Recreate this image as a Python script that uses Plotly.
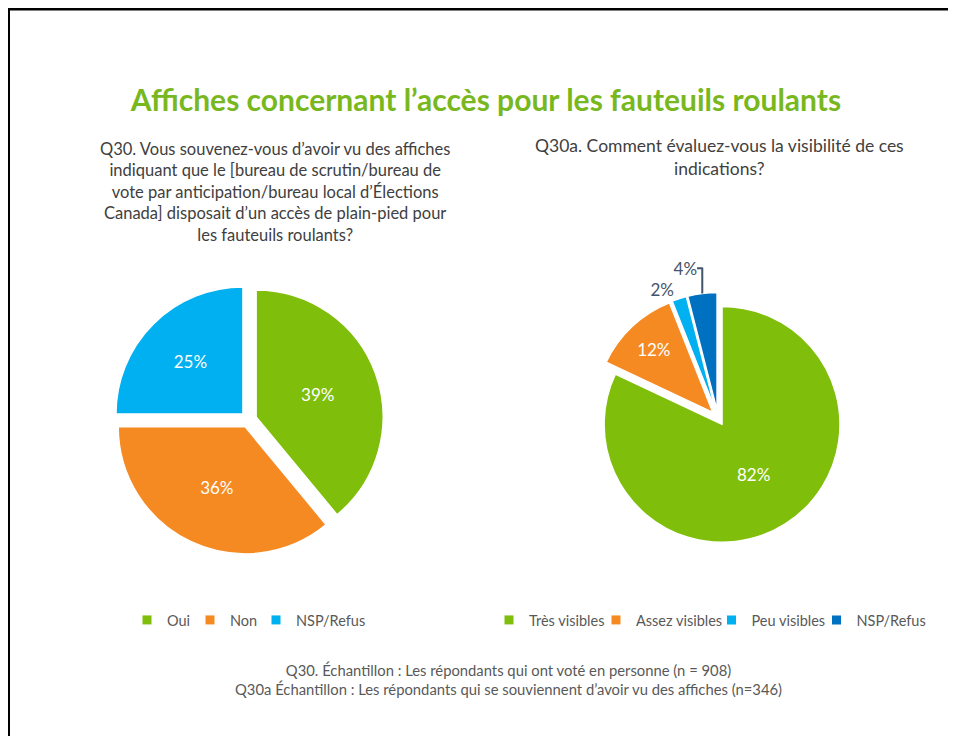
import plotly.graph_objects as go

W, H = 956, 736
OFF = 8  # default page margin of the html body

# ---- data ----
q30_labels = ["Oui", "Non", "NSP/Refus"]
q30_values = [39, 36, 25]
q30_colors = ["#7FBE0A", "#F58A23", "#00B0F0"]

q30a_labels = ["Très visibles", "Assez visibles", "Peu visibles", "NSP/Refus"]
q30a_values = [82, 12, 2, 4]
q30a_colors = ["#7FBE0A", "#F58A23", "#00B0F0", "#0070C0"]
q30a_textpos = ["inside", "inside", "outside", "outside"]

title_text = "Affiches concernant l’accès pour les fauteuils roulants"
q30_question = ("Q30. Vous souvenez-vous d’avoir vu des affiches<br>"
                "indiquant que le [bureau de scrutin/bureau de<br>"
                "vote par anticipation/bureau local d’Élections<br>"
                "Canada] disposait d’un accès de plain-pied pour<br>"
                "les fauteuils roulants?")
q30a_question = "Q30a. Comment évaluez-vous la visibilité de ces<br>indications?"
footnote = ("Q30. Échantillon : Les répondants qui ont voté en personne (n = 908)<br>"
            "Q30a Échantillon : Les répondants qui se souviennent d’avoir vu des affiches (n=346)")

# legend key centres (page pixels)
q30_legend_x = [151, 214, 280]
q30a_legend_x = [513, 620, 735.5, 840.5]
LEGEND_Y = 620

FONT = "Lato, 'Open Sans', sans-serif"
TEXT_GREY = "#404040"
LEG_GREY = "#595959"


def px_x(x):
    return (x - OFF) / W


def px_y(y):
    return 1 - (y - OFF) / H


def dom(cx, cy, side):
    return dict(x=[px_x(cx - side / 2), px_x(cx + side / 2)],
                y=[px_y(cy + side / 2), px_y(cy - side / 2)])


fig = go.Figure()

fig.add_trace(go.Pie(
    labels=q30_labels, values=q30_values,
    marker=dict(colors=q30_colors, line=dict(color="white", width=1.5)),
    sort=False, direction="clockwise", rotation=0,
    pull=[0.063] * 3,
    textinfo="percent", textposition="inside",
    insidetextorientation="horizontal",
    textfont=dict(family=FONT, size=17, color="white"),
    domain=dom(248.6, 419.6, 270),
    showlegend=False, hoverinfo="label+percent",
))

fig.add_trace(go.Pie(
    labels=q30a_labels, values=q30a_values,
    marker=dict(colors=q30a_colors, line=dict(color="white", width=1.5)),
    sort=False, direction="clockwise", rotation=0,
    pull=[0.064] * 4,
    textinfo="percent", textposition=q30a_textpos,
    insidetextorientation="horizontal",
    insidetextfont=dict(family=FONT, size=17, color="white"),
    outsidetextfont=dict(family=FONT, size=17, color="#44546A"),
    domain=dom(718, 418, 251),
    showlegend=False, hoverinfo="label+percent",
))

# legend keys: one legend per entry so each key sits where the reference has it
legend_layouts = {}
entries = list(zip(q30_labels, q30_colors, q30_legend_x)) + \
    list(zip(q30a_labels, q30a_colors, q30a_legend_x))
for k, (lab, col, cx) in enumerate(entries, start=1):
    lid = "legend" if k == 1 else f"legend{k}"
    fig.add_trace(go.Scatter(
        x=[None], y=[None], mode="markers", name=lab,
        marker=dict(symbol="square", size=9, color=col),
        legend=lid, showlegend=True, hoverinfo="skip",
    ))
    legend_layouts[lid] = dict(
        orientation="h", x=px_x(cx - 24), y=px_y(LEGEND_Y),
        xanchor="left", yanchor="middle",
        font=dict(family=FONT, size=14.5, color=LEG_GREY),
        bgcolor="rgba(0,0,0,0)", borderwidth=0,
    )

fig.update_layout(
    width=W, height=H,
    margin=dict(l=0, r=0, t=0, b=0),
    paper_bgcolor="white", plot_bgcolor="white",
    font=dict(family=FONT, color=TEXT_GREY),
    xaxis=dict(visible=False), yaxis=dict(visible=False),
    title=dict(text=title_text, x=px_x(486), xanchor="center",
               y=px_y(100), yanchor="middle",
               font=dict(family=FONT, size=30, color="#78B81E", weight="bold")),
    showlegend=True,
    annotations=[
        dict(text=q30_question, x=px_x(275), y=px_y(192), xref="paper", yref="paper",
             xanchor="center", yanchor="middle", showarrow=False, align="center",
             font=dict(family=FONT, size=16.5, color=TEXT_GREY)),
        dict(text=q30a_question, x=px_x(719), y=px_y(157), xref="paper", yref="paper",
             xanchor="center", yanchor="middle", showarrow=False, align="center",
             font=dict(family=FONT, size=17.5, color=TEXT_GREY)),
        dict(text=footnote, x=px_x(508), y=px_y(679), xref="paper", yref="paper",
             xanchor="center", yanchor="middle", showarrow=False, align="center",
             font=dict(family=FONT, size=14.8, color=LEG_GREY)),
    ],
    shapes=[
        dict(type="line", xref="paper", yref="paper", x0=0, x1=1, y0=px_y(9), y1=px_y(9),
             line=dict(color="black", width=3)),
        dict(type="line", xref="paper", yref="paper", x0=0.5 / W, x1=0.5 / W, y0=px_y(8), y1=0,
             line=dict(color="black", width=3)),
    ],
    **legend_layouts,
)

fig.write_html("out.html")
